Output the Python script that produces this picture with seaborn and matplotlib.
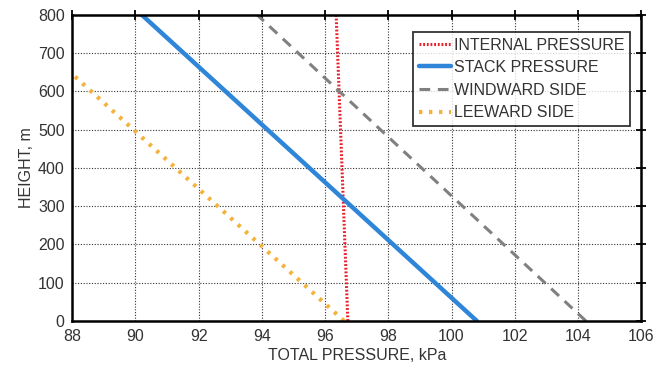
import matplotlib
matplotlib.use("Agg")
import matplotlib.pyplot as plt
import seaborn as sns
import pandas as pd

series = ["INTERNAL PRESSURE", "STACK PRESSURE", "WINDWARD SIDE", "LEEWARD SIDE"]
internal_p = [96.72, 96.35]
internal_h = [0, 800]
stack_p = [100.8, 90.2]
stack_h = [0, 800]
windward_p = [104.25, 93.85]
windward_h = [0, 800]
leeward_p = [96.6, 88.0]
leeward_h = [0, 645]

xticks = [88, 90, 92, 94, 96, 98, 100, 102, 104, 106]
yticks = [0, 100, 200, 300, 400, 500, 600, 700, 800]

rows = []
for name, ps, hs in zip(series, [internal_p, stack_p, windward_p, leeward_p],
                        [internal_h, stack_h, windward_h, leeward_h]):
    for p, h in zip(ps, hs):
        rows.append({"series": name, "p": p, "h": h})
df = pd.DataFrame(rows)

sns.set_theme(style="white")
plt.rcParams['font.family'] = ['Liberation Sans', 'DejaVu Sans']

fig = plt.figure(figsize=(6.63, 3.71), dpi=100)
ax = fig.add_axes([0.109, 0.135, 0.858, 0.825])

palette = {"INTERNAL PRESSURE": "#e8202a", "STACK PRESSURE": "#2f86d8",
           "WINDWARD SIDE": "#808080", "LEEWARD SIDE": "#f4b23a"}
styles = {"INTERNAL PRESSURE": dict(ls=(0, (0.6, 0.6)), lw=2.2),
          "STACK PRESSURE": dict(ls="-", lw=3.2),
          "WINDWARD SIDE": dict(ls=(0, (3.5, 2.5)), lw=2.2),
          "LEEWARD SIDE": dict(ls=(0, (0.8, 1.6)), lw=3.0)}

for name in series:
    sub = df[df.series == name]
    sns.lineplot(data=sub, x="p", y="h", ax=ax, color=palette[name],
                 label=name, sort=False, estimator=None, **styles[name])

fs = 11.5
ax.set_xlim(88, 106)
ax.set_ylim(0, 800)
ax.set_xticks(xticks)
ax.set_yticks(yticks)
ax.grid(True, color="#333333", ls=(0, (1, 1.5)), lw=0.8)
ax.set_axisbelow(True)
for s in ax.spines.values():
    s.set_color("black")
    s.set_linewidth(1.8)
ax.tick_params(axis="both", direction="inout", length=7, width=1.3,
               labelsize=fs, colors="black", labelcolor="#333333", pad=2)
ax.tick_params(top=True, right=True, labeltop=False, labelright=False)
ax.set_xlabel("TOTAL PRESSURE, kPa", fontsize=fs, color="#333333", labelpad=3)
ax.set_ylabel("HEIGHT, m", fontsize=fs, color="#333333", labelpad=3)

leg = ax.legend(loc="upper right", bbox_to_anchor=(0.981, 0.944), borderaxespad=0,
                frameon=True, fancybox=False, fontsize=fs, handlelength=2.0,
                handletextpad=0.2, borderpad=0.35, labelspacing=0.47)
leg.get_frame().set_edgecolor("black")
leg.get_frame().set_linewidth(1.3)
for t in leg.get_texts():
    t.set_color("#333333")

fig.savefig("out.png", dpi=100)
